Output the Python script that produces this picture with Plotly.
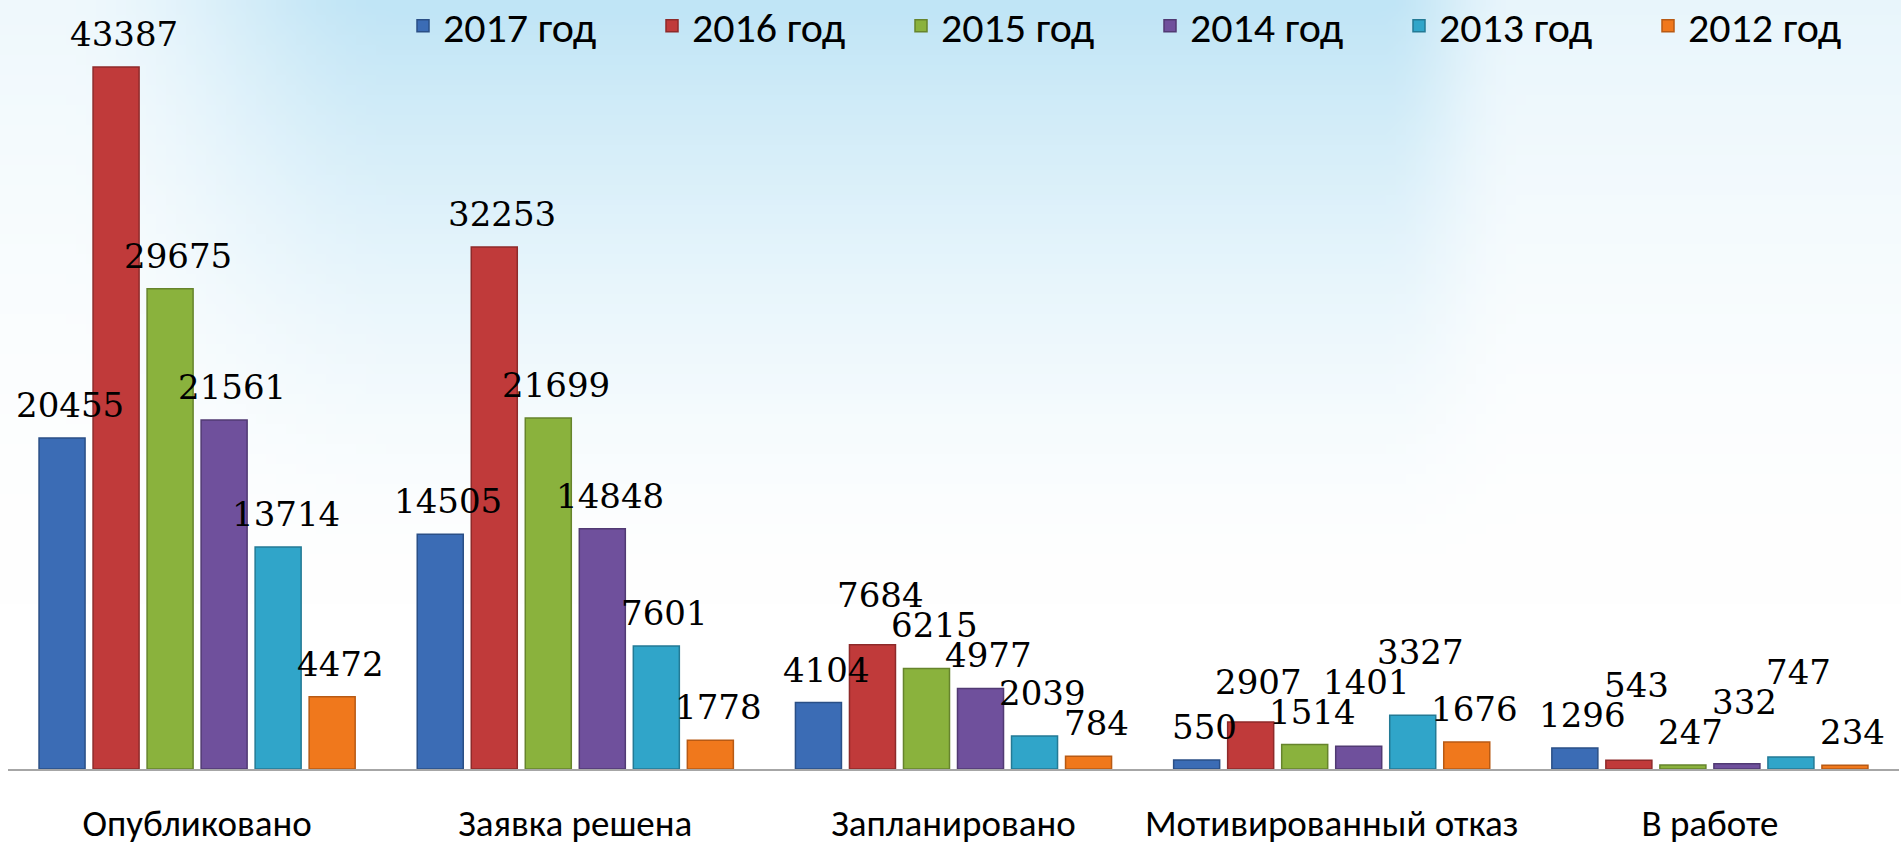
import base64
import struct
import zlib

import numpy as np
import plotly.graph_objects as go

# ---------------- data ----------------
categories = ["Опубликовано", "Заявка решена", "Запланировано",
              "Мотивированный отказ", "В работе"]
series_names = ["2017 год", "2016 год", "2015 год", "2014 год", "2013 год", "2012 год"]
v2017 = [20455, 14505, 4104, 550, 1296]
v2016 = [43387, 32253, 7684, 2907, 543]
v2015 = [29675, 21699, 6215, 1514, 247]
v2014 = [21561, 14848, 4977, 1401, 332]
v2013 = [13714, 7601, 2039, 3327, 747]
v2012 = [4472, 1778, 784, 1676, 234]
series_values = [v2017, v2016, v2015, v2014, v2013, v2012]

# ---------------- style ----------------
fill_colors = ["#3b6cb5", "#c03a3a", "#8ab23d", "#6f509c", "#30a5c9", "#f0781c"]
line_colors = ["#2a4f86", "#8e2a2a", "#66842c", "#513a73", "#237a95", "#b85a14"]
W, H = 1901, 848
BARGAP = 0.143
GROUPGAP = 0.148
YMAX = 47030
SANS = "Carlito, 'Liberation Sans Narrow', 'Open Sans', sans-serif"
SERIF = "'DejaVu Serif', 'Liberation Serif', serif"
LABEL_SIZE = 34
ml, mr, mt, mb = 8, 2, 8, 79
plot_w = W - ml - mr
plot_h = H - mt - mb


def sky_png(w=190, h=85):
    ys, xs = np.mgrid[0:h, 0:w]
    X = xs / (w - 1) * W
    Y = ys / (h - 1) * H
    v = np.clip(1 - Y / 600.0, 0, 1) ** 1.6

    def sstep(a, b, x):
        t = np.clip((x - a) / (b - a), 0, 1)
        return t * t * (3 - 2 * t)
    hprof = (0.25 + 0.75 * sstep(60, 400, X)) * (1 - 0.65 * sstep(1380, 1520, X))
    inten = np.clip(hprof * v, 0, 1)
    white = np.array([255, 255, 255], float)
    blue = np.array([192, 229, 246], float)
    img = white[None, None, :] * (1 - inten[..., None]) + blue[None, None, :] * inten[..., None]
    img = img.astype(np.uint8)
    raw = b"".join(b"\x00" + img[r].tobytes() for r in range(h))

    def chunk(tag, data):
        c = struct.pack(">I", len(data)) + tag + data
        return c + struct.pack(">I", zlib.crc32(tag + data) & 0xFFFFFFFF)
    png = (b"\x89PNG\r\n\x1a\n"
           + chunk(b"IHDR", struct.pack(">IIBBBBB", w, h, 8, 2, 0, 0, 0))
           + chunk(b"IDAT", zlib.compress(raw, 9)) + chunk(b"IEND", b""))
    return "data:image/png;base64," + base64.b64encode(png).decode()


fig = go.Figure()
for name, vals, fc, lc in zip(series_names, series_values, fill_colors, line_colors):
    fig.add_trace(go.Bar(
        name=name, x=categories, y=vals,
        marker=dict(color=fc, line=dict(color=lc, width=1.5)),
        hoverinfo="x+y+name",
    ))

# ---------------- data labels with simple collision avoidance ----------------
n = len(series_values)
slot = (1 - BARGAP) / n
slot_px = slot * plot_w / len(categories)
BASE_YSHIFT = 11
GLYPH_GAP = BASE_YSHIFT + 9      # visible gap between bar top and digits
BOX_H = 30
LIFT_DIFF = 15


def ypx(val):
    return mt + plot_h * (1 - val / YMAX)


annotations = []
for i in range(len(categories)):
    vals = [series_values[j][i] for j in range(n)]
    widths = [len(str(v)) * 0.636 * LABEL_SIZE for v in vals]
    natural = [ypx(v) - GLYPH_GAP for v in vals]
    bottom = list(natural)
    for _ in range(60):
        changed = False
        for j in range(n - 1):
            k = j + 1
            h_over = (widths[j] + widths[k]) / 2 - slot_px
            v_over = min(bottom[j], bottom[k]) - max(bottom[j] - BOX_H, bottom[k] - BOX_H)
            if h_over > 0 and v_over > 0.5:
                # lift the left label only when its bar is clearly taller
                up = j if natural[j] < natural[k] - LIFT_DIFF else k
                other = k if up == j else j
                bottom[up] = bottom[other] - BOX_H
                changed = True
        if not changed:
            break
    for j in range(n):
        annotations.append(dict(
            x=i - (1 - BARGAP) / 2 + slot * (j + 0.5), y=vals[j],
            xref="x", yref="y", text=str(vals[j]), showarrow=False,
            xanchor="center", yanchor="bottom", xshift=8,
            yshift=BASE_YSHIFT + (natural[j] - bottom[j]),
            font=dict(family=SERIF, size=LABEL_SIZE, color="#000000"),
        ))

fig.update_layout(
    width=W, height=H,
    margin=dict(l=ml, r=mr, t=mt, b=mb, autoexpand=False),
    barmode="group", bargap=BARGAP, bargroupgap=GROUPGAP,
    paper_bgcolor="#ffffff", plot_bgcolor="rgba(0,0,0,0)",
    showlegend=True,
    legend=dict(
        orientation="h", x=(403 - ml) / plot_w, xanchor="left",
        y=1 + (mt + 8) / plot_h, yanchor="top",
        entrywidth=204, entrywidthmode="pixels",
        font=dict(family=SANS, size=42, color="#000000"),
        bgcolor="rgba(0,0,0,0)", traceorder="normal",
    ),
    xaxis=dict(
        showline=True, linecolor="#a6a6a6", linewidth=2,
        ticks="outside", ticklen=21, tickcolor="rgba(0,0,0,0)",
        tickfont=dict(family=SANS, size=37, color="#000000"),
        showgrid=False, zeroline=False, automargin=False,
    ),
    yaxis=dict(visible=False, range=[0, YMAX], showgrid=False, zeroline=False),
    annotations=annotations,
    images=[dict(
        source=sky_png(), xref="paper", yref="paper",
        x=-ml / plot_w, y=1 + mt / plot_h, sizex=W / plot_w, sizey=H / plot_h,
        xanchor="left", yanchor="top", sizing="stretch", layer="below",
    )],
)

fig.write_html("out.html")
